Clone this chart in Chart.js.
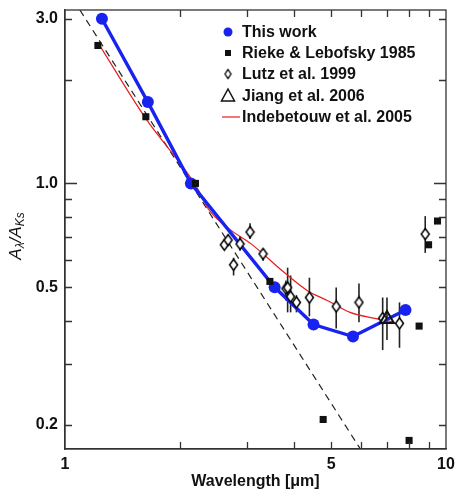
<!DOCTYPE html>
<html><head><meta charset="utf-8">
<script src="https://cdn.jsdelivr.net/npm/chart.js@4/dist/chart.umd.min.js"></script>
<style>html,body{margin:0;padding:0;background:#fff;overflow:hidden}canvas{display:block}</style>
</head><body>
<canvas id="c" width="456" height="501"></canvas>
<script>
// ---- data ----
const thisWorkX = [1.25, 1.65, 2.14, 3.55, 4.49, 5.70, 7.83];
const thisWorkY = [3.00, 1.72, 1.00, 0.50, 0.39, 0.36, 0.43];

const riekeX = [1.22, 1.63, 2.20, 3.45, 4.76, 8.0, 8.5, 9.0, 9.5];
const riekeY = [2.51, 1.56, 1.00, 0.52, 0.207, 0.180, 0.386, 0.664, 0.778];

const lutzX  = [2.62, 2.68, 2.77, 2.88, 3.06, 3.31, 3.80, 3.84, 3.91, 4.05, 4.38, 5.15, 5.91, 6.82, 7.55, 8.82];
const lutzY  = [0.664, 0.685, 0.581, 0.668, 0.723, 0.625, 0.496, 0.499, 0.470, 0.452, 0.467, 0.440, 0.452, 0.407, 0.393, 0.713];
const lutzLo = [0.645, 0.665, 0.541, 0.638, 0.690, 0.597, 0.458, 0.423, 0.423, 0.423, 0.412, 0.380, 0.396, 0.329, 0.334, 0.629];
const lutzHi = [0.685, 0.710, 0.609, 0.704, 0.767, 0.646, 0.523, 0.570, 0.541, 0.474, 0.533, 0.499, 0.513, 0.467, 0.452, 0.804];

const jiangX  = [7.0];
const jiangY  = [0.405];
const jiangLo = [0.352];
const jiangHi = [0.467];

const indebX = [1.23, 1.63, 2.20, 2.38, 2.68, 3.08, 3.77, 4.33, 4.88, 5.60, 6.45, 7.32];
const indebY = [2.52, 1.54, 0.99, 0.842, 0.742, 0.668, 0.551, 0.489, 0.458, 0.423, 0.407, 0.396];

const dashX = [1.094, 5.94];
const dashY = [3.18, 0.171];

const xTickVals   = [1, 2, 3, 4, 5, 6, 7, 8, 9, 10];
const xTickLabels = ['1', '', '', '', '5', '', '', '', '', '10'];
const yTickVals   = [0.2, 0.3, 0.4, 0.5, 0.6, 0.7, 0.8, 0.9, 1, 2, 3];
const yTickLabels = ['0.2', '', '', '0.5', '', '', '', '', '1.0', '', '3.0'];

const legendLabels = ['This work', 'Rieke & Lebofsky 1985', 'Lutz et al. 1999', 'Jiang et al. 2006', 'Indebetouw et al. 2005'];

// ---- helpers ----
const FONT = "'Liberation Sans', Arial, Helvetica, sans-serif";
const BLUE = 'rgb(25,35,240)';
const RED = 'rgb(230,30,30)';
const INK = '#111';
const X_TICK_PAD = 6;
const pts = (xs, ys) => xs.map((x, i) => ({x: x, y: ys[i]}));

function makeDiamond(w, h, lw) {
  const c = document.createElement('canvas');
  c.width = w + 3; c.height = h + 3;
  const g = c.getContext('2d');
  g.beginPath();
  g.moveTo(c.width / 2, 1.5); g.lineTo(c.width - 1.5, c.height / 2);
  g.lineTo(c.width / 2, c.height - 1.5); g.lineTo(1.5, c.height / 2);
  g.closePath();
  g.fillStyle = '#fff'; g.fill();
  g.lineWidth = lw; g.strokeStyle = '#000'; g.stroke();
  return c;
}
const diamond = makeDiamond(8, 11, 1.5);

// error bars drawn under the markers
const errorBars = {
  id: 'errorBars',
  beforeDatasetsDraw(chart) {
    const ctx = chart.ctx, xs = chart.scales.x, ys = chart.scales.y;
    ctx.save();
    ctx.beginPath();
    const a = chart.chartArea;
    ctx.rect(a.left, a.top, a.right - a.left, a.bottom - a.top);
    ctx.clip();
    ctx.strokeStyle = '#222'; ctx.lineWidth = 1.6;
    chart.data.datasets.forEach(ds => {
      if (!ds.errLo) return;
      ds.data.forEach((p, i) => {
        const px = xs.getPixelForValue(p.x);
        ctx.beginPath();
        ctx.moveTo(px, ys.getPixelForValue(ds.errLo[i]));
        ctx.lineTo(px, ys.getPixelForValue(ds.errHi[i]));
        ctx.stroke();
      });
    });
    ctx.restore();
  }
};

// frame, inward ticks, last x label, legend, y title
const decor = {
  id: 'decor',
  afterDraw(chart) {
    const ctx = chart.ctx, a = chart.chartArea, xs = chart.scales.x, ys = chart.scales.y;
    ctx.save();
    ctx.strokeStyle = '#333'; ctx.lineWidth = 1.3;
    ctx.strokeRect(a.left, a.top, a.right - a.left, a.bottom - a.top);
    ctx.beginPath();
    xTickVals.forEach(v => {
      const p = Math.round(xs.getPixelForValue(v)) + 0.5;
      if (p <= a.left + 1 || p >= a.right - 1) return;
      ctx.moveTo(p, a.bottom); ctx.lineTo(p, a.bottom - 7);
      ctx.moveTo(p, a.top); ctx.lineTo(p, a.top + 7);
    });
    yTickVals.forEach(v => {
      const p = Math.round(ys.getPixelForValue(v)) + 0.5;
      const len = v === 1 ? 12 : 7;
      ctx.moveTo(a.left, p); ctx.lineTo(a.left + len, p);
      ctx.moveTo(a.right, p); ctx.lineTo(a.right - len, p);
    });
    ctx.stroke();

    // last x tick label (may run past the canvas edge like the original)
    ctx.font = 'bold 16px ' + FONT;
    ctx.fillStyle = INK; ctx.textAlign = 'center'; ctx.textBaseline = 'top';
    const last = xTickVals.length - 1;
    ctx.fillText(xTickLabels[last], xs.getPixelForValue(xTickVals[last]), a.bottom + X_TICK_PAD + 2);

    // legend
    const lx = 228, tx = 242, rows = [32, 53, 74, 96, 117];
    ctx.textBaseline = 'middle'; ctx.textAlign = 'left';
    legendLabels.forEach((t, i) => ctx.fillText(t, tx, rows[i] + 1));
    ctx.fillStyle = BLUE;
    ctx.beginPath(); ctx.arc(lx, rows[0], 4.5, 0, Math.PI * 2); ctx.fill();
    ctx.fillStyle = INK;
    ctx.fillRect(lx - 3, rows[1] - 3, 6, 6);
    ctx.drawImage(makeDiamond(6, 9, 1.3), lx - 4.5, rows[2] - 6);
    ctx.beginPath();
    ctx.moveTo(lx, rows[3] - 7); ctx.lineTo(lx + 6.5, rows[3] + 5); ctx.lineTo(lx - 6.5, rows[3] + 5); ctx.closePath();
    ctx.lineWidth = 1.5; ctx.strokeStyle = INK; ctx.stroke();
    ctx.beginPath(); ctx.moveTo(222, rows[4]); ctx.lineTo(240, rows[4]);
    ctx.strokeStyle = RED; ctx.lineWidth = 1.2; ctx.stroke();

    // y title  A_lambda / A_Ks
    ctx.translate(21, 236);
    ctx.rotate(-Math.PI / 2);
    ctx.fillStyle = INK; ctx.textBaseline = 'alphabetic';
    const big = 'italic 17px ' + FONT, small = 'italic 12px ' + FONT;
    const parts = [['A', big, 0], ['λ', small, 3], ['/', big, 0], ['A', big, 0], ['Ks', small, 3]];
    let total = 0;
    parts.forEach(p => { ctx.font = p[1]; total += ctx.measureText(p[0]).width; });
    let cx = -total / 2;
    parts.forEach(p => { ctx.font = p[1]; ctx.fillText(p[0], cx, p[2]); cx += ctx.measureText(p[0]).width; });
    ctx.restore();
  }
};

const tickFont = {family: FONT, size: 16, weight: 'bold'};

new Chart(document.getElementById('c'), {
  type: 'scatter',
  data: {
    datasets: [
      {label: 'Jiang et al. 2006', data: pts(jiangX, jiangY), errLo: jiangLo, errHi: jiangHi,
       pointStyle: 'triangle', pointRadius: 8, backgroundColor: 'rgba(0,0,0,0)', borderColor: INK, borderWidth: 2},
      {label: 'Rieke & Lebofsky 1985', data: pts(riekeX, riekeY),
       pointStyle: 'rect', pointRadius: 5, backgroundColor: INK, borderColor: INK, borderWidth: 0},
      {label: 'Lutz et al. 1999', data: pts(lutzX, lutzY), errLo: lutzLo, errHi: lutzHi,
       pointStyle: diamond, pointRadius: 5},
      {label: 'This work', data: pts(thisWorkX, thisWorkY), showLine: true,
       borderColor: BLUE, backgroundColor: BLUE, borderWidth: 3.4, pointRadius: 6, pointBorderWidth: 0},
      {label: 'Indebetouw et al. 2005', data: pts(indebX, indebY), showLine: true,
       borderColor: RED, borderWidth: 1.2, pointRadius: 0, cubicInterpolationMode: 'monotone'},
      {label: 'power law', data: pts(dashX, dashY), showLine: true,
       borderColor: '#222', borderWidth: 1.2, borderDash: [7, 5], pointRadius: 0}
    ]
  },
  options: {
    responsive: false, animation: false, devicePixelRatio: 1,
    layout: {padding: {top: 7, right: 6, left: 0, bottom: 0}},
    plugins: {legend: {display: false}, tooltip: {enabled: false}},
    scales: {
      x: {
        type: 'logarithmic', min: 1, max: 10, position: 'bottom',
        afterBuildTicks: s => { s.ticks = xTickVals.map(v => ({value: v})); },
        afterFit: s => { s.height = 52; },
        ticks: {autoSkip: false, maxRotation: 0, padding: X_TICK_PAD, color: INK, font: tickFont,
                callback: (v, i) => (i === xTickVals.length - 1 ? '' : xTickLabels[i])},
        grid: {display: false, drawTicks: false, drawOnChartArea: false},
        border: {display: true, color: '#333', width: 1.3},
        title: {display: true, text: 'Wavelength [μm]', color: INK, font: tickFont, padding: {top: 0, bottom: 10}}
      },
      y: {
        type: 'logarithmic', min: 0.17, max: 3.18, position: 'left',
        afterBuildTicks: s => { s.ticks = yTickVals.map(v => ({value: v})); },
        afterFit: s => { s.width = 65; s.paddingTop = 0; s.paddingBottom = 0; },
        ticks: {autoSkip: false, padding: 7, color: INK, font: tickFont,
                callback: (v, i) => yTickLabels[i]},
        grid: {display: false, drawTicks: false, drawOnChartArea: false},
        border: {display: true, color: '#333', width: 1.3}
      }
    }
  },
  plugins: [errorBars, decor]
});
</script>
</body></html>
